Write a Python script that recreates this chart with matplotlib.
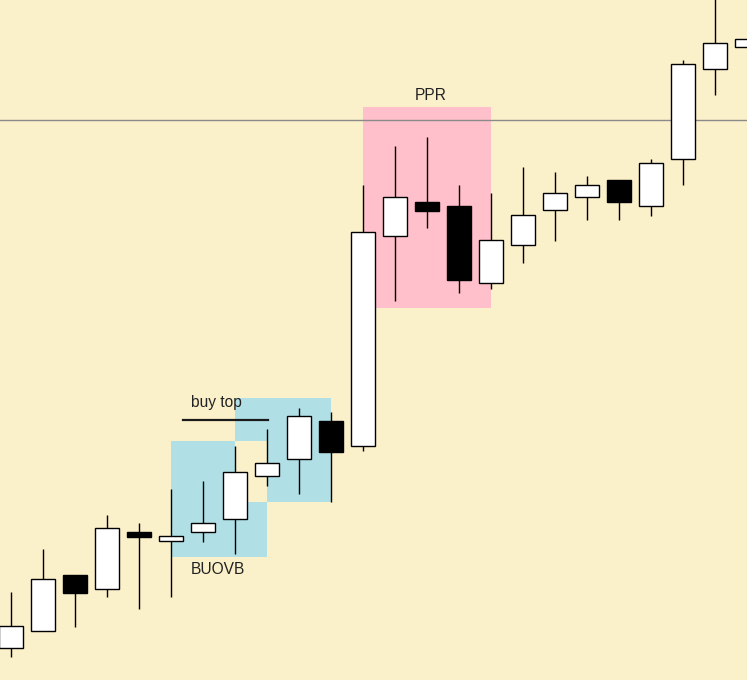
import matplotlib
matplotlib.use("Agg")
import matplotlib.pyplot as plt
from matplotlib.patches import Rectangle

# OHLC values (price units)
opens  = [32, 49, 105, 91, 148, 139, 148, 161, 204, 221, 259, 234, 444, 478, 474, 397, 435, 470, 483, 500, 474, 521, 611, 633]
closes = [54, 101, 87, 152, 143, 144, 157, 208, 217, 264, 228, 448, 483, 469, 400, 440, 465, 487, 495, 478, 517, 616, 637, 641]
highs  = [88, 131, 105, 165, 157, 191, 199, 234, 251, 272, 268, 495, 534, 543, 495, 487, 513, 508, 504, 500, 521, 620, 690, 641]
lows   = [23, 49, 53, 83, 71, 83, 138, 126, 194, 186, 178, 229, 379, 452, 387, 391, 417, 439, 460, 460, 464, 495, 585, 633]

# Zones: (start index, end index, low price, high price)
buovb_box1 = (5, 8, 123, 239)
buovb_box2 = (7, 10, 178, 282)
ppr_box = (11, 15, 372, 573)
ref_level = 560
buy_top_level = 260

BG = "#FAF0CA"
fig = plt.figure(figsize=(7.47, 6.80), dpi=100, facecolor=BG)
ax = fig.add_axes([0, 0, 1, 1])
ax.set_facecolor(BG)
ax.set_xlim(-0.34375, 23.0)
ax.set_ylim(0, 680)
ax.axis("off")

blue = "#B0E0E6"

def rect_xor(a, b):
    ox0, ox1 = max(a[0], b[0]), min(a[1], b[1])
    oy0, oy1 = max(a[2], b[2]), min(a[3], b[3])
    pieces = []
    for (x0, x1, y0, y1) in (a, b):
        xs = sorted(set([x0, x1] + [v for v in (ox0, ox1) if x0 < v < x1]))
        ys = sorted(set([y0, y1] + [v for v in (oy0, oy1) if y0 < v < y1]))
        for i in range(len(xs) - 1):
            for j in range(len(ys) - 1):
                cx = (xs[i] + xs[i + 1]) / 2
                cy = (ys[j] + ys[j + 1]) / 2
                if ox0 < cx < ox1 and oy0 < cy < oy1:
                    continue
                pieces.append((xs[i], xs[i + 1], ys[j], ys[j + 1]))
    return pieces

for (x0, x1, y0, y1) in rect_xor(buovb_box1, buovb_box2):
    ax.add_patch(Rectangle((x0, y0), x1 - x0, y1 - y0, facecolor=blue,
                           edgecolor="none", zorder=1))

x0, x1, y0, y1 = ppr_box
ax.add_patch(Rectangle((x0, y0), x1 - x0, y1 - y0, facecolor="#FFC0CB",
                       edgecolor="none", zorder=1))

ax.axhline(ref_level, color="#8A8A8A", lw=1.0, zorder=2)

w = 0.75
lw = 1.0
for i, (o, c, h, l) in enumerate(zip(opens, closes, highs, lows)):
    ax.plot([i, i], [l, h], color="black", lw=lw, zorder=3, solid_capstyle="butt")
    up = c >= o
    bottom = min(o, c)
    height = abs(c - o)
    ax.add_patch(Rectangle((i - w / 2, bottom), w, height,
                           facecolor="white" if up else "black",
                           edgecolor="black", lw=lw, zorder=4))

ax.plot([5.375, 8.03], [buy_top_level, buy_top_level], color="#1a1a1a", lw=1.6, zorder=5)
txt = dict(color="#222222", fontsize=11.2, family="Liberation Sans", zorder=6)
ax.text(5.625, 277, "buy top", ha="left", va="center", **txt)
ax.text(5.625, 111, "BUOVB", ha="left", va="center", **txt)
ax.text(13.1, 585, "PPR", ha="center", va="center", **txt)

fig.savefig("out.png", dpi=100, facecolor=BG)
